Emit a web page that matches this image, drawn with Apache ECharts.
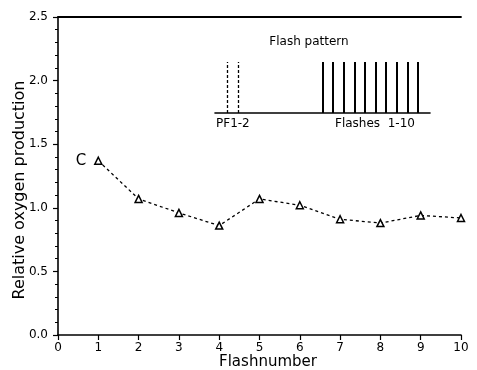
<!DOCTYPE html>
<html>
<head>
<meta charset="utf-8">
<script src="https://cdn.jsdelivr.net/npm/echarts@6/dist/echarts.min.js"></script>
<style>html,body{margin:0;padding:0;background:#fff;}#c{width:477px;height:370px;}</style>
</head>
<body>
<div id="c"></div>
<script>
// Data
const flashNumbers = [1, 2, 3, 4, 5, 6, 7, 8, 9, 10];
const oxygenValues = [1.37, 1.07, 0.96, 0.86, 1.07, 1.02, 0.91, 0.88, 0.94, 0.92];
const xTickValues = [0, 1, 2, 3, 4, 5, 6, 7, 8, 9, 10];
const yTickValues = [0.0, 0.5, 1.0, 1.5, 2.0, 2.5];
// Inset flash pattern (relative timing units)
const preflashTimes = [0, 1];
const flashTimes = [9, 10, 11, 12, 13, 14, 15, 16, 17, 18];

const FONT = 'DejaVu Sans';
const chart = echarts.init(document.getElementById('c'), null, {renderer: 'canvas'});

const option = {
  backgroundColor: '#fff',
  animation: false,
  grid: [
    {left: 58, right: 16, top: 17, bottom: 35},
    {left: 215, width: 215, top: 62, height: 51}
  ],
  xAxis: [
    {
      gridIndex: 0, type: 'value', position: 'bottom',
      min: xTickValues[0], max: xTickValues[xTickValues.length - 1], interval: 1,
      axisLine: {show: true, onZero: false, lineStyle: {color: '#000', width: 1.6}},
      axisTick: {show: true, inside: false, length: 5, lineStyle: {color: '#000', width: 1.2}},
      axisLabel: {color: '#000', fontFamily: FONT, fontSize: 12, margin: 7},
      splitLine: {show: false}
    },
    {
      gridIndex: 0, type: 'value', position: 'top',
      min: xTickValues[0], max: xTickValues[xTickValues.length - 1], interval: 1,
      axisLine: {show: true, onZero: false, lineStyle: {color: '#000', width: 1.8}},
      axisTick: {show: false}, axisLabel: {show: false}, splitLine: {show: false}
    },
    {
      gridIndex: 1, type: 'value', min: -1.15, max: 19.13,
      axisLine: {show: true, onZero: false, lineStyle: {color: '#000', width: 1.6}},
      axisTick: {show: false}, axisLabel: {show: false}, splitLine: {show: false}
    }
  ],
  yAxis: [
    {
      gridIndex: 0, type: 'value',
      min: yTickValues[0], max: yTickValues[yTickValues.length - 1], interval: 0.5,
      axisLine: {show: true, onZero: false, lineStyle: {color: '#000', width: 1.6}},
      axisTick: {show: true, inside: false, length: 5, lineStyle: {color: '#000', width: 1.2}},
      minorTick: {show: true, splitNumber: 5, length: 3, lineStyle: {color: '#000', width: 1}},
      axisLabel: {color: '#000', fontFamily: FONT, fontSize: 12, margin: 10,
        formatter: v => v.toFixed(1)},
      splitLine: {show: false}
    },
    {
      gridIndex: 1, type: 'value', min: 0, max: 1, show: false
    }
  ],
  graphic: [
    {type: 'text', left: null, x: 20, y: 190, rotation: Math.PI / 2,
      style: {text: 'Relative oxygen production', fill: '#000', font: '16px "DejaVu Sans"',
        textAlign: 'center', textVerticalAlign: 'middle'}},
    {type: 'text', x: 268, y: 362,
      style: {text: 'Flashnumber', fill: '#000', font: '15px "DejaVu Sans"',
        textAlign: 'center', textVerticalAlign: 'middle'}},
    {type: 'text', x: 309, y: 42,
      style: {text: 'Flash pattern', fill: '#000', font: '12px "DejaVu Sans"',
        textAlign: 'center', textVerticalAlign: 'middle'}},
    {type: 'text', x: 216, y: 124,
      style: {text: 'PF1-2', fill: '#000', font: '12px "DejaVu Sans"',
        textAlign: 'left', textVerticalAlign: 'middle'}},
    {type: 'text', x: 375, y: 124,
      style: {text: 'Flashes  1-10', fill: '#000', font: '12px "DejaVu Sans"',
        textAlign: 'center', textVerticalAlign: 'middle'}}
  ],
  series: [
    {
      type: 'line', xAxisIndex: 0, yAxisIndex: 0,
      data: flashNumbers.map((f, i) => [f, oxygenValues[i]]),
      symbol: 'triangle', symbolSize: 7,
      itemStyle: {color: '#fff', borderColor: '#000', borderWidth: 1.5},
      lineStyle: {color: '#000', width: 1.3, type: [3, 3]},
      label: {show: false},
      markPoint: {
        symbol: 'rect', symbolSize: 0,
        label: {show: true, formatter: 'C', color: '#000', fontFamily: FONT, fontSize: 15,
          position: 'left', distance: 12},
        data: [{coord: [flashNumbers[0], oxygenValues[0]]}]
      }
    },
    {
      type: 'line', xAxisIndex: 2, yAxisIndex: 1,
      data: [], showSymbol: false,
      markLine: {
        silent: true, symbol: 'none', label: {show: false},
        lineStyle: {color: '#000', width: 2, type: 'solid'},
        data: flashTimes.map(t => ({xAxis: t}))
      }
    },
    {
      type: 'line', xAxisIndex: 2, yAxisIndex: 1,
      data: [], showSymbol: false,
      markLine: {
        silent: true, symbol: 'none', label: {show: false},
        lineStyle: {color: '#000', width: 1.3, type: [3, 2]},
        data: preflashTimes.map(t => ({xAxis: t}))
      }
    }
  ]
};
chart.setOption(option);
</script>
</body>
</html>
